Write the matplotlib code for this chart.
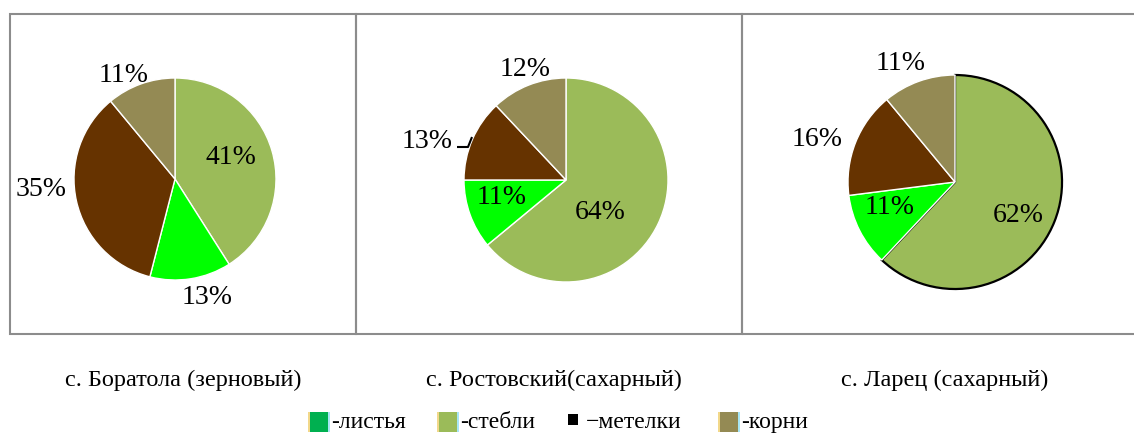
import matplotlib.pyplot as plt
from matplotlib.patches import Rectangle
import numpy as np

plt.rcParams['font.family'] = ['Liberation Serif', 'DejaVu Serif']

categories = ['листья', 'стебли', 'метелки', 'корни']
sites = ['с. Боратола (зерновый)', 'с. Ростовский(сахарный)', 'с. Ларец (сахарный)']
boratola = [13, 41, 35, 11]
rostovsky = [11, 64, 13, 12]
larets = [11, 62, 16, 11]

colors = ['#00FF00', '#9BBB59', '#663300', '#948A54']
legend_colors = ['#00B050', '#9BBB59', '#000000', '#948A54']

W, H = 1134, 435
fig = plt.figure(figsize=(W / 100, H / 100), dpi=100)
ax = fig.add_axes([0, 0, 1, 1])


def Y(py):
    return H - py


# panel frames (pixel coords)
frames = [(10, 15, 356, 335), (356, 15, 742, 335), (742, 15, 1140, 335)]
for x0, y0, x1, y1 in frames:
    ax.add_patch(Rectangle((x0, Y(y1)), x1 - x0, y1 - y0, fill=False,
                           edgecolor='#8C8C8C', lw=1.5, zorder=1))

# pie centers / radii and label offsets (px, relative to center)
centers = [(175, 180), (566, 181), (955, 183)]
radii = [101, 102, 107]
label_off = [
    [(32, -118), (56, 22), (-134, -10), (-51, 105)],
    [(-64, -17), (34, -32), (-139, 39), (-41, 111)],
    [(-65, -25), (63, -33), (-138, 43), (-54, 120)],
]

order = [1, 0, 2, 3]  # draw clockwise from top: стебли, листья, метелки, корни
for i, vals in enumerate([boratola, rostovsky, larets]):
    cx, cy = centers[i]
    v = [vals[k] for k in order]
    c = [colors[k] for k in order]
    explode = [0.035, 0, 0, 0] if i == 2 else None
    wedges, _ = ax.pie(v, colors=c, startangle=90, counterclock=False,
                       center=(cx, Y(cy)), radius=radii[i], explode=explode,
                       frame=True,
                       wedgeprops=dict(edgecolor='white', linewidth=1))
    if i == 2:
        wedges[0].set_edgecolor('black')
        wedges[0].set_linewidth(1.6)
    for k in range(4):
        dx, dy = label_off[i][k]
        ax.text(cx + dx, Y(cy) + dy, f'{vals[k]}%', ha='center', va='center',
                fontsize=20, color='black', zorder=5)

# leader line for 13% in second pie
ax.plot([457, 468, 472], [Y(148), Y(148), Y(138)], color='black', lw=1.5,
        solid_capstyle='butt', zorder=4)

# site captions
cap_x = [183, 554, 945]
for x, s in zip(cap_x, sites):
    ax.text(x, Y(380), s, ha='center', va='center', fontsize=17.5)

# legend
leg_x = [308, 437, 568, 718]
for k, name in enumerate(categories):
    x = leg_x[k]
    if k == 2:
        ax.add_patch(Rectangle((x, Y(426)), 10, 11, color='black', lw=0))
        ax.text(x + 18, Y(423), '\u2212' + name, ha='left', va='center', fontsize=17)
    else:
        ax.add_patch(Rectangle((x, Y(433)), 21, 20, color=legend_colors[k], lw=0))
        ax.add_patch(Rectangle((x, Y(433)), 2, 20, color='#F2D88A', lw=0))
        ax.add_patch(Rectangle((x + 20, Y(433)), 2, 20, color='#A8E6F5', lw=0))
        ax.text(x + 23, Y(423), '-' + name, ha='left', va='center', fontsize=17)

ax.set_xlim(0, W)
ax.set_ylim(0, H)
ax.set_aspect('auto')
ax.axis('off')

fig.savefig('out.png', dpi=100, facecolor='white')
